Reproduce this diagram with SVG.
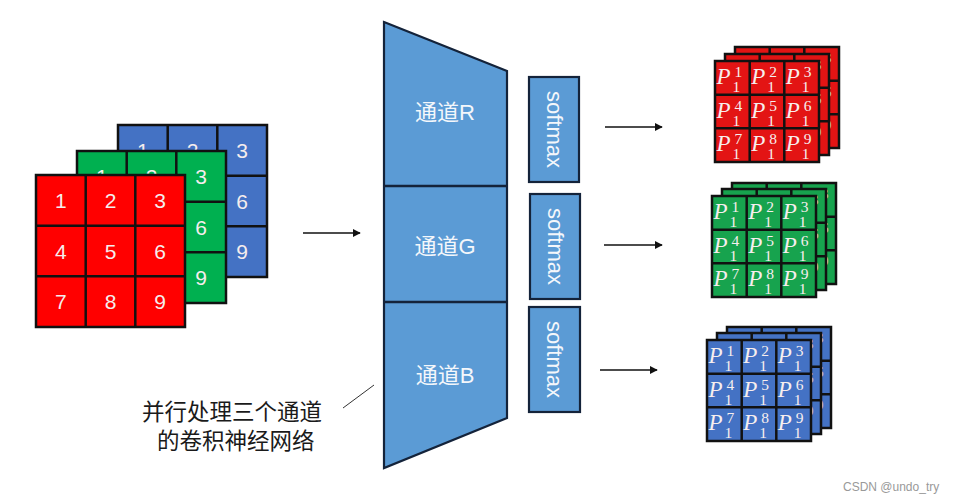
<svg xmlns="http://www.w3.org/2000/svg" xmlns:xlink="http://www.w3.org/1999/xlink" width="965" height="501" viewBox="0 0 965 501">
<style>
.num{font-family:"Liberation Sans","Open Sans",sans-serif;font-size:21px;fill:#f5eded;text-anchor:middle}
.grid{stroke:#111;stroke-width:2.5}
.gl{stroke:#111;stroke-width:2.5;fill:none}
.blk{fill:#5b9bd5;stroke:#14233a;stroke-width:2.2}
.lab{font-family:"Liberation Sans","Noto Sans CJK SC",sans-serif;font-size:22px;fill:#f4f7fb;text-anchor:middle}
.P{font-family:"Liberation Serif",serif;font-style:italic;font-size:23px;fill:#f7eeee}
.s{font-family:"Liberation Serif",serif;font-size:15.5px;fill:#f7eeee}
.arr{stroke:#111;stroke-width:1.3;fill:none;marker-end:url(#ah)}
.note{font-family:"Noto Sans CJK SC",sans-serif;font-size:22.5px;fill:#1a1a1a}
</style>
<defs>
<marker id="ah" viewBox="0 0 10 10" refX="9" refY="5" markerWidth="8" markerHeight="8" markerUnits="userSpaceOnUse" orient="auto">
<path d="M0,0 L10,5 L0,10 z" fill="#111"/>
</marker>
<g id="pgrid">
<path class="gl" d="M34.7,0V101M69.3,0V101M0,33.7H104M0,67.3H104"/>
<g><text class="P" x="1.5" y="23">P</text><text class="s" x="19.5" y="16">1</text><text class="s" x="17.5" y="31">1</text></g>
<g><text class="P" x="36.2" y="23">P</text><text class="s" x="54.2" y="16">2</text><text class="s" x="52.2" y="31">1</text></g>
<g><text class="P" x="70.8" y="23">P</text><text class="s" x="88.8" y="16">3</text><text class="s" x="86.8" y="31">1</text></g>
<g><text class="P" x="1.5" y="56.7">P</text><text class="s" x="19.5" y="49.7">4</text><text class="s" x="17.5" y="64.7">1</text></g>
<g><text class="P" x="36.2" y="56.7">P</text><text class="s" x="54.2" y="49.7">5</text><text class="s" x="52.2" y="64.7">1</text></g>
<g><text class="P" x="70.8" y="56.7">P</text><text class="s" x="88.8" y="49.7">6</text><text class="s" x="86.8" y="64.7">1</text></g>
<g><text class="P" x="1.5" y="90.3">P</text><text class="s" x="19.5" y="83.3">7</text><text class="s" x="17.5" y="98.3">1</text></g>
<g><text class="P" x="36.2" y="90.3">P</text><text class="s" x="54.2" y="83.3">8</text><text class="s" x="52.2" y="98.3">1</text></g>
<g><text class="P" x="70.8" y="90.3">P</text><text class="s" x="88.8" y="83.3">9</text><text class="s" x="86.8" y="98.3">1</text></g>
</g>
<g id="ngrid">
<path class="gl" d="M49.7,0V152M99.3,0V152M0,50.7H149M0,101.3H149"/>
<text class="num" x="24.8" y="33">1</text><text class="num" x="74.5" y="33">2</text><text class="num" x="124.2" y="33">3</text>
<text class="num" x="24.8" y="83.7">4</text><text class="num" x="74.5" y="83.7">5</text><text class="num" x="124.2" y="83.7">6</text>
<text class="num" x="24.8" y="134.3">7</text><text class="num" x="74.5" y="134.3">8</text><text class="num" x="124.2" y="134.3">9</text>
</g>
</defs>
<rect width="965" height="501" fill="#ffffff"/>

<g id="input-B"><rect class="grid" x="118" y="125" width="149" height="152" fill="#4472c4"/><use xlink:href="#ngrid" x="118" y="125"/></g>
<g id="input-G"><rect class="grid" x="77" y="151" width="149" height="152" fill="#00b050"/><use xlink:href="#ngrid" x="77" y="151"/></g>
<g id="input-R"><rect class="grid" x="36" y="175" width="149" height="152" fill="#ff0000"/><use xlink:href="#ngrid" x="36" y="175"/></g>

<g id="cnn">
<polygon class="blk" points="384,22 507,71 507,418 384,468"/>
<path stroke="#14233a" stroke-width="2.5" d="M384,186H507M384,302H507"/>
<text class="lab" x="445" y="120">通道R</text>
<text class="lab" x="445" y="254">通道G</text>
<text class="lab" x="445" y="383">通道B</text>
</g>

<g id="softmax-R"><rect class="blk" x="529" y="77" width="50" height="105"/><text class="lab" transform="translate(554,129.5) rotate(90)" y="7.5">softmax</text></g>
<g id="softmax-G"><rect class="blk" x="530" y="194" width="50" height="105"/><text class="lab" transform="translate(555,246.5) rotate(90)" y="7.5">softmax</text></g>
<g id="softmax-B"><rect class="blk" x="529" y="307" width="51" height="105"/><text class="lab" transform="translate(554.5,359.5) rotate(90)" y="7.5">softmax</text></g>

<g id="out-R">
<rect class="grid" x="735" y="47" width="104" height="101" fill="#e31414"/><use xlink:href="#pgrid" x="735" y="47"/>
<rect class="grid" x="725" y="54" width="104" height="101" fill="#e31414"/><use xlink:href="#pgrid" x="725" y="54"/>
<rect class="grid" x="715" y="61" width="104" height="101" fill="#e31414"/><use xlink:href="#pgrid" x="715" y="61"/>
</g>
<g id="out-G">
<rect class="grid" x="732" y="183" width="104" height="101" fill="#17a34e"/><use xlink:href="#pgrid" x="732" y="183"/>
<rect class="grid" x="722" y="189" width="104" height="101" fill="#17a34e"/><use xlink:href="#pgrid" x="722" y="189"/>
<rect class="grid" x="712" y="196" width="104" height="101" fill="#17a34e"/><use xlink:href="#pgrid" x="712" y="196"/>
</g>
<g id="out-B">
<rect class="grid" x="727" y="327" width="104" height="101" fill="#4472c4"/><use xlink:href="#pgrid" x="727" y="327"/>
<rect class="grid" x="717" y="333" width="104" height="101" fill="#4472c4"/><use xlink:href="#pgrid" x="717" y="333"/>
<rect class="grid" x="707" y="340" width="104" height="101" fill="#4472c4"/><use xlink:href="#pgrid" x="707" y="340"/>
</g>

<g id="note">
<text class="note" x="142" y="420">并行处理三个通道</text>
<text class="note" x="157" y="449">的卷积神经网络</text>
</g>

<g id="connectors">
<line class="arr" x1="303" y1="233" x2="360" y2="233"/>
<line class="arr" x1="605" y1="127" x2="662" y2="127"/>
<line class="arr" x1="604" y1="245" x2="662" y2="245"/>
<line class="arr" x1="600" y1="370" x2="657" y2="370"/>
<line x1="343" y1="408" x2="374" y2="385" stroke="#333" stroke-width="1"/>
</g>

<text x="843" y="491" font-family="Liberation Sans,sans-serif" font-size="12" fill="#999">CSDN @undo_try</text>
</svg>
